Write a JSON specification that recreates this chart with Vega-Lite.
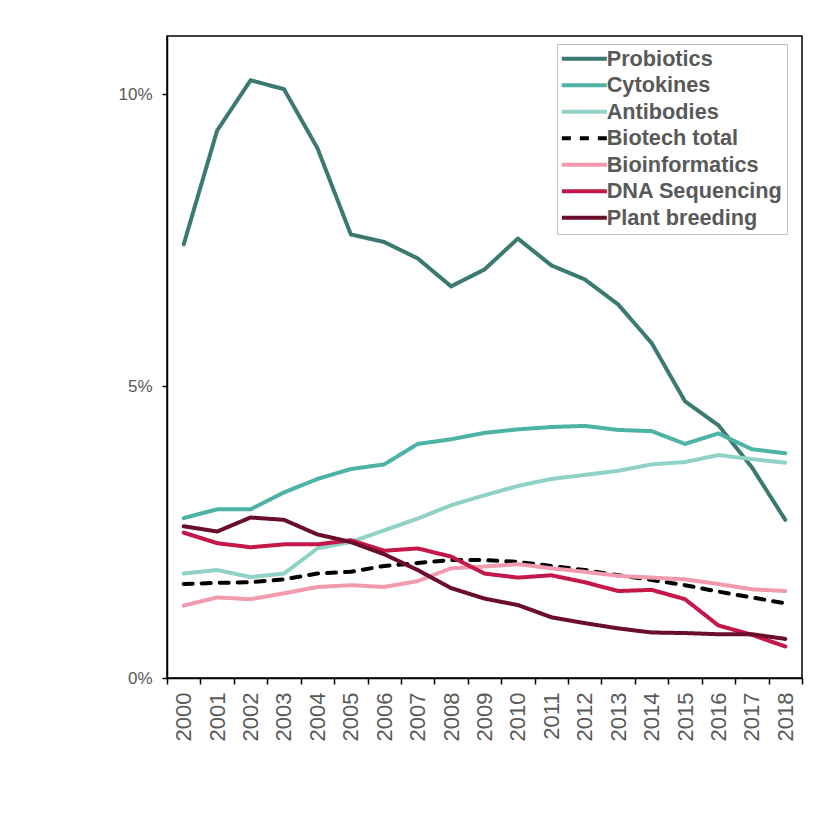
{
  "$schema": "https://vega.github.io/schema/vega-lite/v6.json",
  "width": 635,
  "height": 642,
  "autosize": "none",
  "padding": {"left": 167, "top": 36, "right": 31, "bottom": 146},
  "background": "white",
  "config": {
    "view": {"stroke": "black", "strokeWidth": 1.5},
    "font": "Liberation Sans"
  },
  "data": {
    "values": [
      {"year": "2000", "Probiotics": 7.43, "Cytokines": 2.74, "Antibodies": 1.79, "Biotech total": 1.61, "Bioinformatics": 1.24, "DNA Sequencing": 2.49, "Plant breeding": 2.60},
      {"year": "2001", "Probiotics": 9.38, "Cytokines": 2.89, "Antibodies": 1.85, "Biotech total": 1.63, "Bioinformatics": 1.38, "DNA Sequencing": 2.31, "Plant breeding": 2.51},
      {"year": "2002", "Probiotics": 10.24, "Cytokines": 2.89, "Antibodies": 1.73, "Biotech total": 1.64, "Bioinformatics": 1.35, "DNA Sequencing": 2.24, "Plant breeding": 2.75},
      {"year": "2003", "Probiotics": 10.09, "Cytokines": 3.18, "Antibodies": 1.79, "Biotech total": 1.69, "Bioinformatics": 1.45, "DNA Sequencing": 2.29, "Plant breeding": 2.71},
      {"year": "2004", "Probiotics": 9.08, "Cytokines": 3.41, "Antibodies": 2.22, "Biotech total": 1.79, "Bioinformatics": 1.56, "DNA Sequencing": 2.29, "Plant breeding": 2.46},
      {"year": "2005", "Probiotics": 7.60, "Cytokines": 3.58, "Antibodies": 2.33, "Biotech total": 1.82, "Bioinformatics": 1.59, "DNA Sequencing": 2.36, "Plant breeding": 2.33},
      {"year": "2006", "Probiotics": 7.47, "Cytokines": 3.66, "Antibodies": 2.53, "Biotech total": 1.92, "Bioinformatics": 1.56, "DNA Sequencing": 2.18, "Plant breeding": 2.12},
      {"year": "2007", "Probiotics": 7.19, "Cytokines": 4.01, "Antibodies": 2.73, "Biotech total": 1.97, "Bioinformatics": 1.66, "DNA Sequencing": 2.22, "Plant breeding": 1.85},
      {"year": "2008", "Probiotics": 6.71, "Cytokines": 4.09, "Antibodies": 2.96, "Biotech total": 2.02, "Bioinformatics": 1.88, "DNA Sequencing": 2.08, "Plant breeding": 1.54},
      {"year": "2009", "Probiotics": 7.00, "Cytokines": 4.20, "Antibodies": 3.13, "Biotech total": 2.02, "Bioinformatics": 1.91, "DNA Sequencing": 1.79, "Plant breeding": 1.36},
      {"year": "2010", "Probiotics": 7.53, "Cytokines": 4.26, "Antibodies": 3.29, "Biotech total": 1.99, "Bioinformatics": 1.95, "DNA Sequencing": 1.72, "Plant breeding": 1.25},
      {"year": "2011", "Probiotics": 7.07, "Cytokines": 4.30, "Antibodies": 3.41, "Biotech total": 1.92, "Bioinformatics": 1.88, "DNA Sequencing": 1.76, "Plant breeding": 1.04},
      {"year": "2012", "Probiotics": 6.83, "Cytokines": 4.32, "Antibodies": 3.48, "Biotech total": 1.85, "Bioinformatics": 1.82, "DNA Sequencing": 1.64, "Plant breeding": 0.94},
      {"year": "2013", "Probiotics": 6.40, "Cytokines": 4.25, "Antibodies": 3.55, "Biotech total": 1.76, "Bioinformatics": 1.75, "DNA Sequencing": 1.49, "Plant breeding": 0.85},
      {"year": "2014", "Probiotics": 5.74, "Cytokines": 4.23, "Antibodies": 3.66, "Biotech total": 1.68, "Bioinformatics": 1.72, "DNA Sequencing": 1.51, "Plant breeding": 0.78},
      {"year": "2015", "Probiotics": 4.74, "Cytokines": 4.01, "Antibodies": 3.70, "Biotech total": 1.59, "Bioinformatics": 1.69, "DNA Sequencing": 1.35, "Plant breeding": 0.77},
      {"year": "2016", "Probiotics": 4.33, "Cytokines": 4.19, "Antibodies": 3.82, "Biotech total": 1.48, "Bioinformatics": 1.61, "DNA Sequencing": 0.90, "Plant breeding": 0.75},
      {"year": "2017", "Probiotics": 3.61, "Cytokines": 3.92, "Antibodies": 3.75, "Biotech total": 1.38, "Bioinformatics": 1.52, "DNA Sequencing": 0.74, "Plant breeding": 0.75},
      {"year": "2018", "Probiotics": 2.71, "Cytokines": 3.85, "Antibodies": 3.69, "Biotech total": 1.28, "Bioinformatics": 1.49, "DNA Sequencing": 0.54, "Plant breeding": 0.67}
    ]
  },
  "transform": [
    {"fold": ["Probiotics", "Cytokines", "Antibodies", "Biotech total", "Bioinformatics", "DNA Sequencing", "Plant breeding"], "as": ["series", "value"]}
  ],
  "mark": {"type": "line", "strokeWidth": 4, "strokeCap": "round", "strokeJoin": "round"},
  "encoding": {
    "x": {
      "field": "year",
      "type": "ordinal",
      "bandPosition": 0.5,
      "scale": {"type": "band", "paddingInner": 0, "paddingOuter": 0},
      "axis": {
        "title": null,
        "labelAngle": -90,
        "labelFontSize": 22,
        "labelColor": "#595959",
        "tickBand": "extent",
        "tickSize": 6,
        "tickColor": "black",
        "tickWidth": 1.5,
        "domainColor": "black",
        "domainWidth": 1.5,
        "labelPadding": 8,
        "grid": false
      }
    },
    "y": {
      "field": "value",
      "type": "quantitative",
      "scale": {"domain": [0, 11], "nice": false, "zero": true},
      "axis": {
        "title": null,
        "values": [0, 5, 10],
        "labelExpr": "datum.value + '%'",
        "labelFontSize": 17,
        "labelColor": "#595959",
        "tickSize": 5,
        "tickColor": "black",
        "tickWidth": 1.5,
        "domainColor": "black",
        "domainWidth": 1.5,
        "labelPadding": 10,
        "grid": false
      }
    },
    "color": {
      "field": "series",
      "type": "nominal",
      "scale": {
        "domain": ["Probiotics", "Cytokines", "Antibodies", "Biotech total", "Bioinformatics", "DNA Sequencing", "Plant breeding"],
        "range": ["#3A7A70", "#4DB3A5", "#90D2C6", "#000000", "#F29AB0", "#C4174A", "#6A0E2B"]
      },
      "legend": {
        "title": null,
        "orient": "none",
        "legendX": 390,
        "legendY": 8,
        "symbolType": "M-2,0H7",
        "symbolSize": 100,
        "symbolStrokeWidth": 4,
        "labelFontSize": 21.7,
        "labelFontWeight": "bold",
        "labelColor": "#595959",
        "labelOffset": 24,
        "strokeColor": "#BFBFBF",
        "fillColor": "white",
        "padding": 4,
        "rowPadding": 3.5,
        "labelLimit": 300
      }
    },
    "strokeDash": {
      "field": "series",
      "type": "nominal",
      "scale": {
        "domain": ["Probiotics", "Cytokines", "Antibodies", "Biotech total", "Bioinformatics", "DNA Sequencing", "Plant breeding"],
        "range": [[1, 0], [1, 0], [1, 0], [9, 9], [1, 0], [1, 0], [1, 0]]
      }
    }
  }
}
